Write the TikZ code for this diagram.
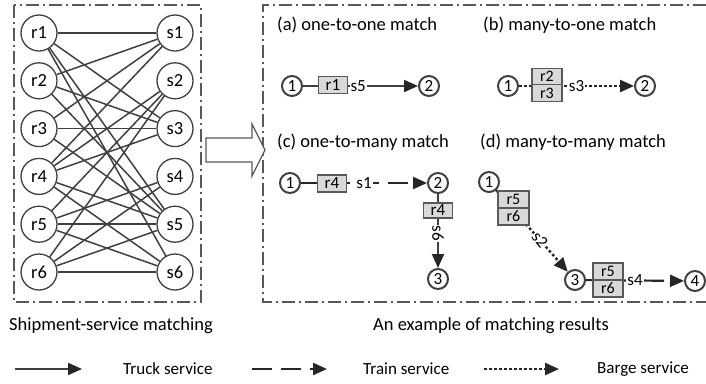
\documentclass[tikz,border=0pt]{standalone}
\usepackage{fontspec}
\setmainfont{Carlito}
\usetikzlibrary{arrows.meta}
\definecolor{ink}{HTML}{404040}
\definecolor{framegray}{HTML}{595959}
\definecolor{boxfill}{HTML}{D9D9D9}
\definecolor{tipcol}{HTML}{262626}

\begin{document}
\begin{tikzpicture}[x=1bp,y=-1bp,
  font=\fontsize{18.5bp}{20bp}\selectfont,
  frameline/.style={draw=framegray, line width=1.2bp, dash pattern=on 13bp off 4bp on 2bp off 4bp},
  bignode/.style={circle, draw=ink, line width=1.3bp, minimum size=36bp, inner sep=0pt},
  link/.style={draw=ink, line width=1.5bp},
  port/.style={circle, draw=ink, line width=2bp, minimum size=20bp, inner sep=0pt, font=\fontsize{17bp}{18bp}\selectfont},
  cargo/.style={rectangle, draw=framegray, fill=boxfill, line width=1.3bp, minimum width=29bp, minimum height=17bp, inner sep=0pt, font=\fontsize{17bp}{18bp}\selectfont},
  cargotwo/.style={cargo, minimum width=30bp, minimum height=16.5bp, font=\fontsize{16bp}{17bp}\selectfont},
  svc/.style={fill=white, inner sep=1bp, font=\fontsize{17bp}{18bp}\selectfont},
  headed/.style={-{Triangle[length=14bp,width=12bp,color=tipcol]}},
  truck/.style={draw=ink, line width=2bp, headed},
  train/.style={draw=tipcol, line width=2.2bp, dash pattern=on 20bp off 9bp, headed},
  barge/.style={draw=tipcol, line width=2.4bp, dash pattern=on 2.6bp off 2.4bp, headed},
  title/.style={anchor=west, inner sep=0pt},
  legendtext/.style={anchor=west, inner sep=0pt, font=\fontsize{17bp}{18bp}\selectfont},
]
\useasboundingbox (0,0) rectangle (706,383);

% panel frames
\draw[frameline] (14,5) rectangle (201,302);
\draw[frameline] (706,5) -- (263,5) -- (263,302) -- (706,302);

% bipartite shipment-service graph
\foreach \i/\y in {1/33,2/80.8,3/128.6,4/176.4,5/224.2,6/272} {
  \node[bignode] (r\i) at (39,\y) {r\i};
  \node[bignode] (s\i) at (175,\y) {s\i};
}
\foreach \a/\b in {1/1,1/3,1/5,1/6,2/1,2/3,2/5,3/1,3/3,3/5,4/1,4/2,4/3,4/5,4/6,5/2,5/4,5/5,5/6,6/2,6/4,6/5,6/6}
  \draw[link] (r\a) -- (s\b);

% hollow block arrow between the panels
\draw[draw=framegray, line width=1.3bp, fill=white]
  (206,138) -- (252,138) -- (252,124) -- (265,150) -- (252,176) -- (252,162) -- (206,162) -- cycle;

% captions
\node (capL) at (111,326) {Shipment-service matching};
\node (capR) at (491,326) {An example of matching results};

% panel titles
\node[title] (ta) at (277,25) {(a) one-to-one match};
\node[title] (tb) at (483,25) {(b) many-to-one match};
\node[title] (tc) at (277,142) {(c) one-to-many match};
\node[title] (td) at (480,142) {(d) many-to-many match};

% (a) one-to-one
\node[port] (a1) at (292,86) {1};
\node[port] (a2) at (429,86) {2};
\draw[truck] (a1) -- (a2) node[svc, pos=0.48] (as) {s5};
\node[cargo] (ar) at (333,85) {r1};

% (b) many-to-one
\node[port] (b1) at (508,86) {1};
\node[port] (b2) at (645,86) {2};
\draw[barge] (b1) -- (b2) node[svc, pos=0.5] (bs) {s3};
\node[cargotwo] (bu) at (547,76.5) {r2};
\node[cargotwo] (bl) at (547,93) {r3};

% (c) one-to-many
\node[port] (c1) at (290,183) {1};
\node[port] (c2) at (438,183) {2};
\node[port] (c3) at (438,279) {3};
\draw[train] (c1) -- (c2) node[svc, pos=0.5] (cs1) {s1};
\draw[truck] (c2) -- (c3) node[svc, pos=0.53, rotate=-90] (cs2) {s6};
\node[cargo] (cr1) at (332,183.5) {r4};
\node[cargo, minimum height=15bp] (cr2) at (438,210.5) {r4};

% (d) many-to-many
\node[port] (d1) at (489,182) {1};
\node[port] (d3) at (575,280) {3};
\node[port] (d4) at (695,281) {4};
\draw[barge] (d1) -- (d3) node[svc, pos=0.61, rotate=-50] (ds1) {s2};
\draw[train] (d3) -- (d4) node[svc, pos=0.5] (ds2) {s4};
\node[cargotwo, minimum width=31bp, minimum height=17bp] (du1) at (513.5,199.5) {r5};
\node[cargotwo, minimum width=31bp, minimum height=17bp] (dl1) at (513.5,216.5) {r6};
\node[cargotwo, minimum height=17bp] (du2) at (608,271.5) {r5};
\node[cargotwo, minimum height=17bp] (dl2) at (608,288.5) {r6};

% legend
\coordinate (k1a) at (15,369);  \coordinate (k1b) at (82,369);
\coordinate (k2a) at (252,369); \coordinate (k2b) at (327,369);
\coordinate (k3a) at (484,369); \coordinate (k3b) at (559,369);
\draw[truck] (k1a) -- (k1b);
\draw[train] (k2a) -- (k2b);
\draw[barge] (k3a) -- (k3b);
\node[legendtext] (l1) at (123,369) {Truck service};
\node[legendtext] (l2) at (363,369) {Train service};
\node[legendtext] (l3) at (597,369) {Barge service};
\end{tikzpicture}
\end{document}
